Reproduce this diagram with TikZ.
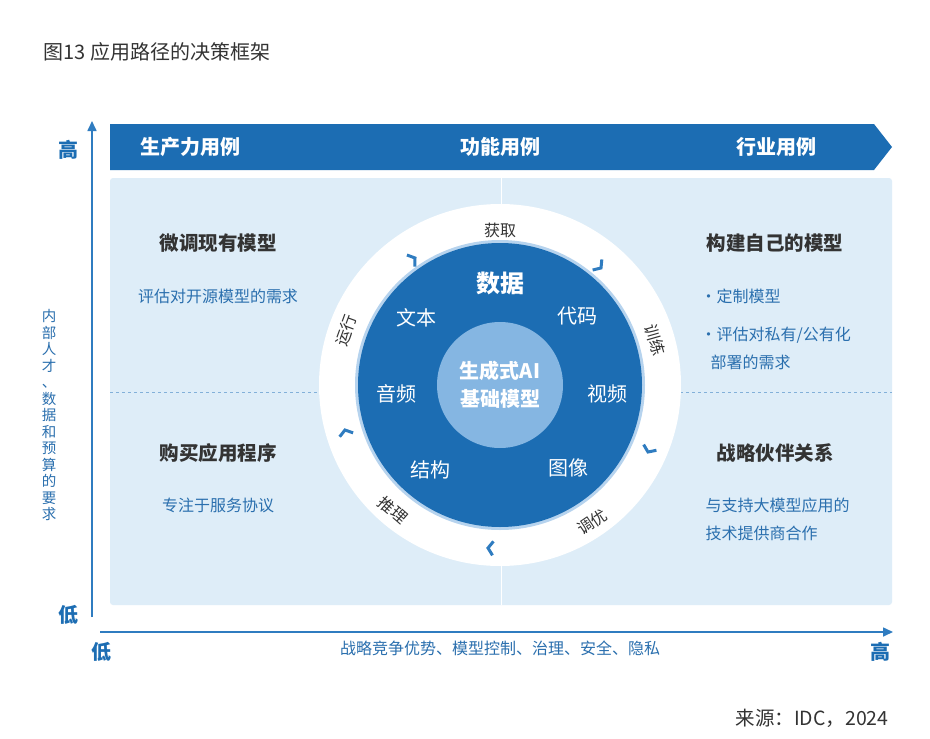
\documentclass[tikz,border=0pt]{standalone}
\usepackage{fontspec}
\setmainfont{Noto Sans CJK SC}
\usetikzlibrary{positioning,arrows.meta}
\definecolor{deepblue}{HTML}{1C6DB3}
\definecolor{axisblue}{HTML}{2F7CC0}
\definecolor{panelblue}{HTML}{DEEDF8}
\definecolor{coreblue}{HTML}{85B6E2}
\definecolor{textblue}{HTML}{2A6FAE}
\definecolor{darktext}{HTML}{333333}
\tikzset{
  head/.style={font=\bfseries\fontsize{19.5}{22}\selectfont,text=darktext},
  note/.style={font=\fontsize{16}{19}\selectfont,text=textblue},
  band/.style={font=\bfseries\fontsize{20}{22}\selectfont,text=white},
  ringlbl/.style={font=\fontsize{16}{18}\selectfont,text=darktext},
  inner/.style={font=\fontsize{20}{22}\selectfont,text=white},
  chev/.style={draw=axisblue,line width=3pt}
}
\newcommand{\chevat}[3]{% x, y, direction
  \begin{scope}[shift={(#1,#2)},rotate=#3]
    \draw[chev] (-5,7) -- (0,0) -- (-5,-7);
  \end{scope}}
\begin{document}
\begin{tikzpicture}[x=1pt,y=-1pt]
  \useasboundingbox[fill=white] (0,0) rectangle (930,739);
  \node[anchor=west,font=\fontsize{20}{22}\selectfont,text=darktext] (title) at (40,52) {图13 应用路径的决策框架};
  % panel and quadrants
  \fill[panelblue,rounded corners=3pt] (110,178) rectangle (892,605);
  \draw[white,line width=1pt] (501,178) -- (501,605);
  \draw[axisblue!60,dashed,line width=0.6pt] (110,392) -- (892,392);
  % banner
  \fill[deepblue] (110,124) -- (874,124) -- (892,147) -- (874,170) -- (110,170) -- cycle;
  \node[band] (prod) at (190,147) {生产力用例};
  \node[band] (func) at (500,147) {功能用例};
  \node[band] (ind) at (776,147) {行业用例};
  % axes
  \coordinate (vlow) at (92,617);
  \coordinate (vhigh) at (92,121);
  \coordinate (hlow) at (100,632);
  \coordinate (hhigh) at (893,632);
  \draw[axisblue,line width=1.6pt,-{Triangle[length=10pt,width=9pt]}] (vlow) -- (vhigh);
  \draw[axisblue,line width=1.6pt,-{Triangle[length=10pt,width=9pt]}] (hlow) -- (hhigh);
  \node[band,text=deepblue] (yhigh) at (68,150) {高};
  \node[band,text=deepblue] (ylow) at (68,615) {低};
  \node[band,text=deepblue] (xlow) at (101,652) {低};
  \node[band,text=deepblue] (xhigh) at (880,652) {高};
  \node[note,align=center,font=\fontsize{14.5}{16.5}\selectfont] (yaxis) at (49,415)
    {内\\部\\人\\才\\、\\数\\据\\和\\预\\算\\的\\要\\求};
  \node[note] (xaxis) at (500,648) {战略竞争优势、模型控制、治理、安全、隐私};
  % quadrants
  \node[head] (fine) at (218,243) {微调现有模型};
  \node[note] (fineN) at (218,296) {评估对开源模型的需求};
  \node[head] (own) at (775,243) {构建自己的模型};
  \node[note,anchor=west] (ownA) at (697,296) {•定制模型};
  \node[note,anchor=west] (ownB) at (697,335) {•评估对私有/公有化};
  \node[note,anchor=west] (ownC) at (707,362) {部署的需求};
  \node[head] (buy) at (218,453) {购买应用程序};
  \node[note] (buyN) at (218,505) {专注于服务协议};
  \node[head] (part) at (775,453) {战略伙伴关系};
  \node[note,anchor=west] (partA) at (702,505) {与支持大模型应用的};
  \node[note,anchor=west] (partB) at (702,533) {技术提供商合作};
  % wheel
  \coordinate (core) at (500,385);
  \fill[white] (core) circle (181);
  \fill[coreblue!60] (core) circle (145);
  \fill[deepblue] (core) circle (142);
  \fill[coreblue] (core) circle (63);
  \node[ringlbl] (get) at (500,230) {获取};
  \node[ringlbl,rotate=-74] (train) at (655,340) {训练};
  \node[ringlbl,rotate=34] (tune) at (592,522) {调优};
  \node[ringlbl,rotate=-41] (infer) at (393,510) {推理};
  \node[ringlbl,rotate=70] (run) at (346,330) {运行};
  \chevat{415}{258}{34}
  \chevat{601}{268}{-41}
  \chevat{648}{452}{-114}
  \chevat{488}{548}{-184}
  \chevat{345}{430}{106}
  \node[inner,font=\bfseries\fontsize{24}{26}\selectfont] (data) at (500,283) {数据};
  \node[inner] (txt) at (416,318) {文本};
  \node[inner] (code) at (577,316) {代码};
  \node[inner] (audio) at (396,394) {音频};
  \node[inner] (video) at (607,394) {视频};
  \node[inner] (struct) at (430,470) {结构};
  \node[inner] (img) at (568,468) {图像};
  \node[inner,font=\bfseries\fontsize{20}{28}\selectfont,align=center] (model) at (core) {生成式AI\\基础模型};
  \node[anchor=east,font=\fontsize{19.5}{22}\selectfont,text=darktext] (src) at (892,718) {来源：IDC，2024};
\end{tikzpicture}
\end{document}
